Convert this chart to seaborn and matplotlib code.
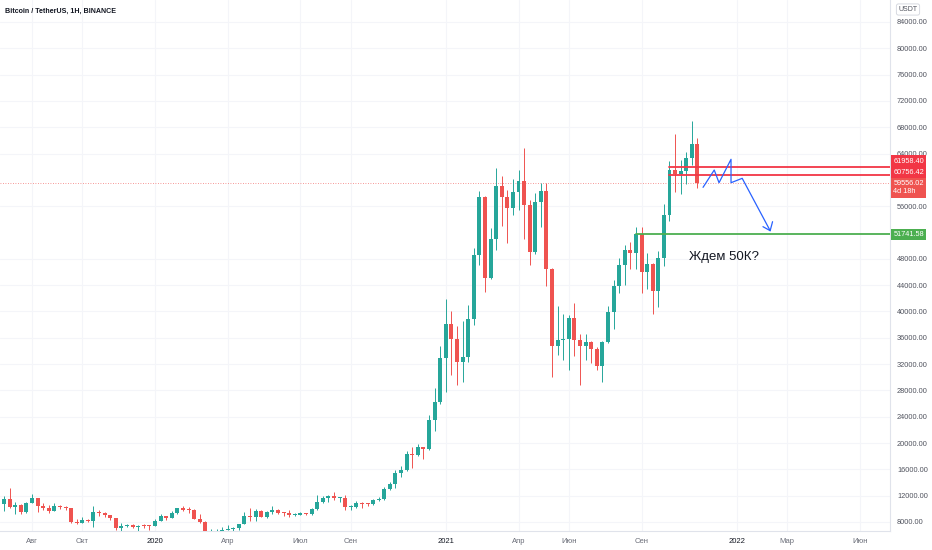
import pandas as pd
import numpy as np
import matplotlib
matplotlib.use('Agg')
import matplotlib.pyplot as plt
import matplotlib.dates as mdates
import seaborn as sns

sns.set_theme(style='white')
plt.rcParams['font.family'] = ['Liberation Sans', 'DejaVu Sans']

GREEN = '#26a69a'
RED = '#ef5350'

# weekly candles, BTCUSDT, first bar 2019-07-01
first_week = '2019-07-01'
opens = [10800, 11450, 10230, 10650, 9480, 10950, 11600, 10400, 10130, 9720,
         10480, 10330, 10080, 8050, 7920, 8300, 8220, 9470, 9320, 9060,
         8560, 7050, 7400, 7540, 7250, 7500, 7400, 7350, 8180, 8900,
         8600, 9370, 10150, 9900, 9880, 8530, 8040, 5360, 5800, 6250,
         6780, 6900, 7120, 7700, 8900, 8740, 9700, 8720, 9450, 9750,
         9400, 9300, 9000, 9070, 9300, 9200, 9950, 11100, 11680, 11900,
         11650, 11700, 10250, 10330, 10920, 10770, 10670, 11370, 11500, 13030,
         13800, 15480, 15970, 18400, 18180, 19360, 19150, 23470, 26250, 33000,
         38150, 35800, 32260, 33090, 38890, 48580, 57400, 45135, 50970, 59000,
         57350, 55800, 58200, 59770, 56150, 49000, 56600, 58240, 46430, 34700,
         35650, 35800, 39000, 35600, 34700, 35300, 34250, 31780, 35400, 39850,
         43800, 47070, 49300, 48900, 51770, 46000, 47250, 43160, 48200, 54650,
         61530, 60860, 61300, 63270, 65500]
highs = [12000, 13130, 11090, 10800, 11100, 12320, 11700, 10950, 10650, 10900,
         10560, 10360, 10100, 8500, 8700, 8400, 10400, 9900, 9500, 9100,
         8650, 7850, 7750, 7700, 7520, 7700, 7600, 8450, 9200, 8950,
         9600, 10200, 10500, 10250, 9990, 9180, 8170, 6900, 6950, 7200,
         7470, 7300, 7760, 9470, 10070, 9950, 9900, 9600, 10380, 9990,
         9590, 9800, 9300, 9450, 9340, 10200, 12100, 12000, 12100, 12490,
         11800, 12050, 10600, 11180, 10990, 10950, 11500, 11730, 13350, 14100,
         15960, 16480, 18800, 19420, 19900, 19420, 24300, 28400, 34800, 41950,
         40100, 37850, 38550, 40950, 49700, 58350, 57500, 52640, 61800, 60600,
         58400, 60200, 61500, 64850, 57000, 58000, 59500, 59600, 46650, 40880,
         39600, 39500, 41300, 36600, 36600, 35500, 34600, 35500, 40900, 44800,
         48150, 50100, 50500, 52900, 52900, 48850, 47350, 49200, 56400, 62800,
         67000, 63000, 64270, 69000, 66300]
lows = [9700, 10100, 9215, 9150, 9380, 10900, 9470, 9750, 9350, 9600,
        9950, 9800, 7800, 7700, 7800, 7950, 7300, 8950, 8700, 8370,
        6800, 6550, 7200, 7050, 6430, 7150, 6850, 7350, 8100, 8250,
        8550, 9150, 9700, 9300, 8450, 7900, 3780, 4450, 5650, 5850,
        6750, 6450, 6800, 7650, 8100, 8200, 8700, 8630, 9270, 9200,
        8900, 8830, 8900, 9000, 9030, 9120, 9900, 10950, 11100, 11400,
        11100, 9900, 9880, 10200, 10150, 10400, 10530, 11200, 11400, 12900,
        13200, 14850, 15800, 16200, 18100, 17600, 19000, 21800, 25900, 27700,
        30400, 28800, 29240, 32300, 37990, 47000, 43000, 44950, 49300, 53050,
        50400, 54700, 55400, 51000, 47000, 48800, 52900, 43800, 30000, 33400,
        32600, 31100, 33300, 28800, 32700, 32100, 31100, 29300, 35200, 37300,
        42800, 44000, 46400, 46500, 42800, 43370, 39600, 40750, 46900, 53800,
        58200, 57800, 59400, 62300, 58700]
closes = [11450, 10230, 10650, 9480, 10950, 11600, 10400, 10100, 9720, 10480,
          10330, 10080, 8050, 7920, 8300, 8220, 9470, 9320, 9060, 8560,
          7050, 7400, 7540, 7250, 7440, 7400, 7350, 8180, 8900, 8600,
          9370, 10150, 9900, 9880, 8530, 8040, 5360, 5800, 6250, 6780,
          6900, 7120, 7700, 8900, 8740, 9700, 8720, 9450, 9750, 9400,
          9300, 9000, 9070, 9300, 9200, 9950, 11100, 11680, 11900, 11650,
          11700, 10250, 10330, 10920, 10770, 10670, 11370, 11500, 13030, 13800,
          15480, 15970, 18400, 18180, 19360, 19150, 23470, 26250, 33000, 38150,
          35800, 32260, 33090, 38890, 48580, 57400, 45135, 50970, 59000, 57350,
          55800, 58200, 59770, 56150, 49000, 56600, 58240, 46430, 34700, 35650,
          35800, 39000, 35600, 34700, 35300, 34250, 31780, 35400, 39850, 43800,
          47070, 49300, 48900, 51770, 46000, 47250, 43160, 48200, 54650, 61530,
          60860, 61300, 63270, 65500, 59556.02]

# price axis
price_ticks = [8000, 12000, 16000, 20000, 24000, 28000, 32000, 36000, 40000,
               44000, 48000, 56000, 64000, 68000, 72000, 76000, 80000, 84000]

# time axis
tick_dates = ['2019-08-05', '2019-10-07', '2020-01-06', '2020-04-06', '2020-07-06',
              '2020-09-07', '2021-01-04', '2021-04-05', '2021-06-07', '2021-09-06',
              '2022-01-03', '2022-03-07', '2022-06-06']
tick_labels = ['Авг', 'Окт', '2020', 'Апр', 'Июл', 'Сен', '2021', 'Апр', 'Июн',
               'Сен', '2022', 'Мар', 'Июн']

# drawn levels
support_level = 51741.58
support_start = '2021-08-30'
resist_levels = [61958.40, 60756.42]
resist_start = '2021-10-11'
last_price = 59556.02

# the blue forecast path
path_dates = ['2021-11-22', '2021-12-06', '2021-12-12', '2021-12-27', '2021-12-27',
              '2022-01-10', '2022-02-14']
path_prices = [58870, 61500, 59570, 63130, 59570, 60240, 52280]
head_dates = ['2022-02-05', '2022-02-14', '2022-02-17']
head_prices = [52890, 52280, 53650]

df = pd.DataFrame({
    'date': pd.date_range(first_week, periods=len(opens), freq='7D'),
    'open': opens, 'high': highs, 'low': lows, 'close': closes,
})
df['x'] = mdates.date2num(df['date'])
df['color'] = np.where(df['close'] >= df['open'], GREEN, RED)


def dnum(s):
    return mdates.date2num(pd.Timestamp(s))


fig = plt.figure(figsize=(9.32, 5.5), dpi=100)
ax = fig.add_axes([0, 19 / 550, 890 / 932, 531 / 550])

x_left = dnum('2019-06-26')
x_right = dnum('2022-07-14')
ax.set_xlim(x_left, x_right)
ax.set_ylim(6632, 87344)

ax.vlines(df['x'], df['low'], df['high'], colors=df['color'], lw=0.7, zorder=3)
body = np.maximum((df['close'] - df['open']).abs(), 150)
ax.bar(df['x'], body, bottom=np.minimum(df['open'], df['close']), width=5,
       color=df['color'], linewidth=0, zorder=3)

# levels
ax.axhline(last_price, color=RED, lw=0.6, ls=(0, (1, 2)), alpha=0.8, zorder=2)
ax.plot([dnum(support_start), x_right], [support_level] * 2, color='#4caf50', lw=1.3, zorder=4)
for lvl in resist_levels:
    ax.plot([dnum(resist_start), x_right], [lvl] * 2, color='#f23645', lw=1.3, zorder=4)

ax.plot([dnum(d) for d in path_dates], path_prices, color='#2962ff', lw=0.9, zorder=5)
ax.plot([dnum(d) for d in head_dates], head_prices, color='#2962ff', lw=0.9, zorder=5)

ax.text(dnum('2021-11-04'), 48280, 'Ждем 50К?', fontsize=9.5, color='#131722',
        va='center', ha='left')

# axes styling
ax.set_yticks(price_ticks)
ax.set_yticklabels(['{:.2f}'.format(v) for v in price_ticks])
ax.yaxis.tick_right()
ax.set_xticks([dnum(d) for d in tick_dates])
ax.set_xticklabels(tick_labels)
ax.tick_params(axis='y', length=0, pad=5, labelsize=5.3, labelcolor='#50535e')
ax.tick_params(axis='x', length=0, pad=5, labelsize=5.5, labelcolor='#6a6d78')
for lab in ax.get_xticklabels():
    if lab.get_text().isdigit():
        lab.set_color('#131722')
ax.grid(True, color='#f4f5f9', lw=0.8)
ax.set_axisbelow(True)
for side in ['top', 'left']:
    ax.spines[side].set_visible(False)
for side in ['right', 'bottom']:
    ax.spines[side].set_color('#e0e3eb')
    ax.spines[side].set_linewidth(0.8)


# price labels on the right scale
def price_tag(price, text, color, dy=0):
    ax.annotate(text, xy=(1.0, price), xycoords=('axes fraction', 'data'),
                xytext=(2.4, dy), textcoords='offset points', ha='left', va='center',
                fontsize=5.3, color='white', zorder=10, annotation_clip=False,
                bbox=dict(boxstyle='square,pad=0.3', fc=color, ec='none'))


price_tag(resist_levels[0], '{:.2f}'.format(resist_levels[0]), '#f23645', dy=4.3)
price_tag(resist_levels[1], '{:.2f}'.format(resist_levels[1]), '#f23645', dy=1.4)
price_tag(last_price, '{:.2f}\n4d 18h   '.format(last_price), RED, dy=-3.6)
price_tag(support_level, '{:.2f}'.format(support_level), '#4caf50')

fig.text(5 / 932, 1 - 11 / 550, 'Bitcoin / TetherUS, 1H, BINANCE', fontsize=5.1,
         fontweight='bold', color='#131722', va='center', ha='left')
fig.text(908 / 932, 1 - 9.5 / 550, 'USDT', fontsize=5, color='#50535e', va='center',
         ha='center', bbox=dict(boxstyle='round,pad=0.3', fc='white', ec='#d1d4dc', lw=0.6))

fig.savefig('out.png', dpi=100, facecolor='white')
